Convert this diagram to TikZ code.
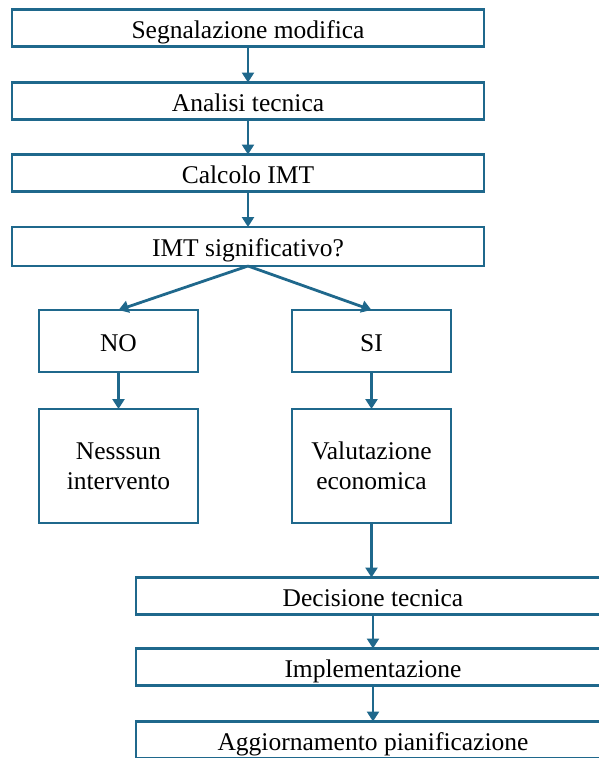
\documentclass[tikz,border=0pt]{standalone}
\usepackage{fontspec}
\setmainfont{Liberation Serif}
\usetikzlibrary{arrows.meta}
\definecolor{edge}{RGB}{31,104,140}
\begin{document}
\begin{tikzpicture}[x=1pt,y=-1pt,
  box/.style={draw=edge, line width=2.8pt, fill=white, inner sep=0pt, outer sep=0pt,
    font=\fontsize{25.5}{30}\selectfont, align=center},
  oneline/.style={text height=22pt, text depth=2pt},
  wide/.style={box, oneline, minimum width=472pt, minimum height=37pt},
  mid/.style={box, oneline, minimum width=159pt, minimum height=62pt},
  tall/.style={box, minimum width=159pt, minimum height=114pt},
  conn/.style={draw=edge, line width=2.8pt, -{Triangle[width=12pt,length=10pt]}}]
\useasboundingbox (0,0) rectangle (598,758);
\node[wide] (s1) at (248,28) {Segnalazione modifica};
\node[wide] (s2) at (248,101) {Analisi tecnica};
\node[wide] (s3) at (248,173) {Calcolo IMT};
\node[wide, minimum height=39pt] (s4) at (248,246.5) {IMT significativo?};
\node[mid] (no) at (118.5,341) {NO};
\node[mid] (si) at (371.5,341) {SI};
\node[tall] (nn) at (118.5,466) {Nesssun\\intervento};
\node[tall] (ve) at (371.5,466) {Valutazione\\economica};
\node[wide, minimum width=474pt] (dt) at (373,596) {Decisione tecnica};
\node[wide, minimum width=474pt] (im) at (373,667) {Implementazione};
\node[wide, minimum width=474pt] (ag) at (373,740) {Aggiornamento pianificazione};
\draw[conn] (s1.south) -- (s2.north);
\draw[conn] (s2.south) -- (s3.north);
\draw[conn] (s3.south) -- (s4.north);
\draw[conn] (s4.south) -- (no.north);
\draw[conn] (s4.south) -- (si.north);
\draw[conn] (no.south) -- (nn.north);
\draw[conn] (si.south) -- (ve.north);
\draw[conn] (ve.south) -- (dt.north -| ve.south);
\draw[conn] (dt.south) -- (im.north);
\draw[conn] (im.south) -- (ag.north);
\end{tikzpicture}
\end{document}
